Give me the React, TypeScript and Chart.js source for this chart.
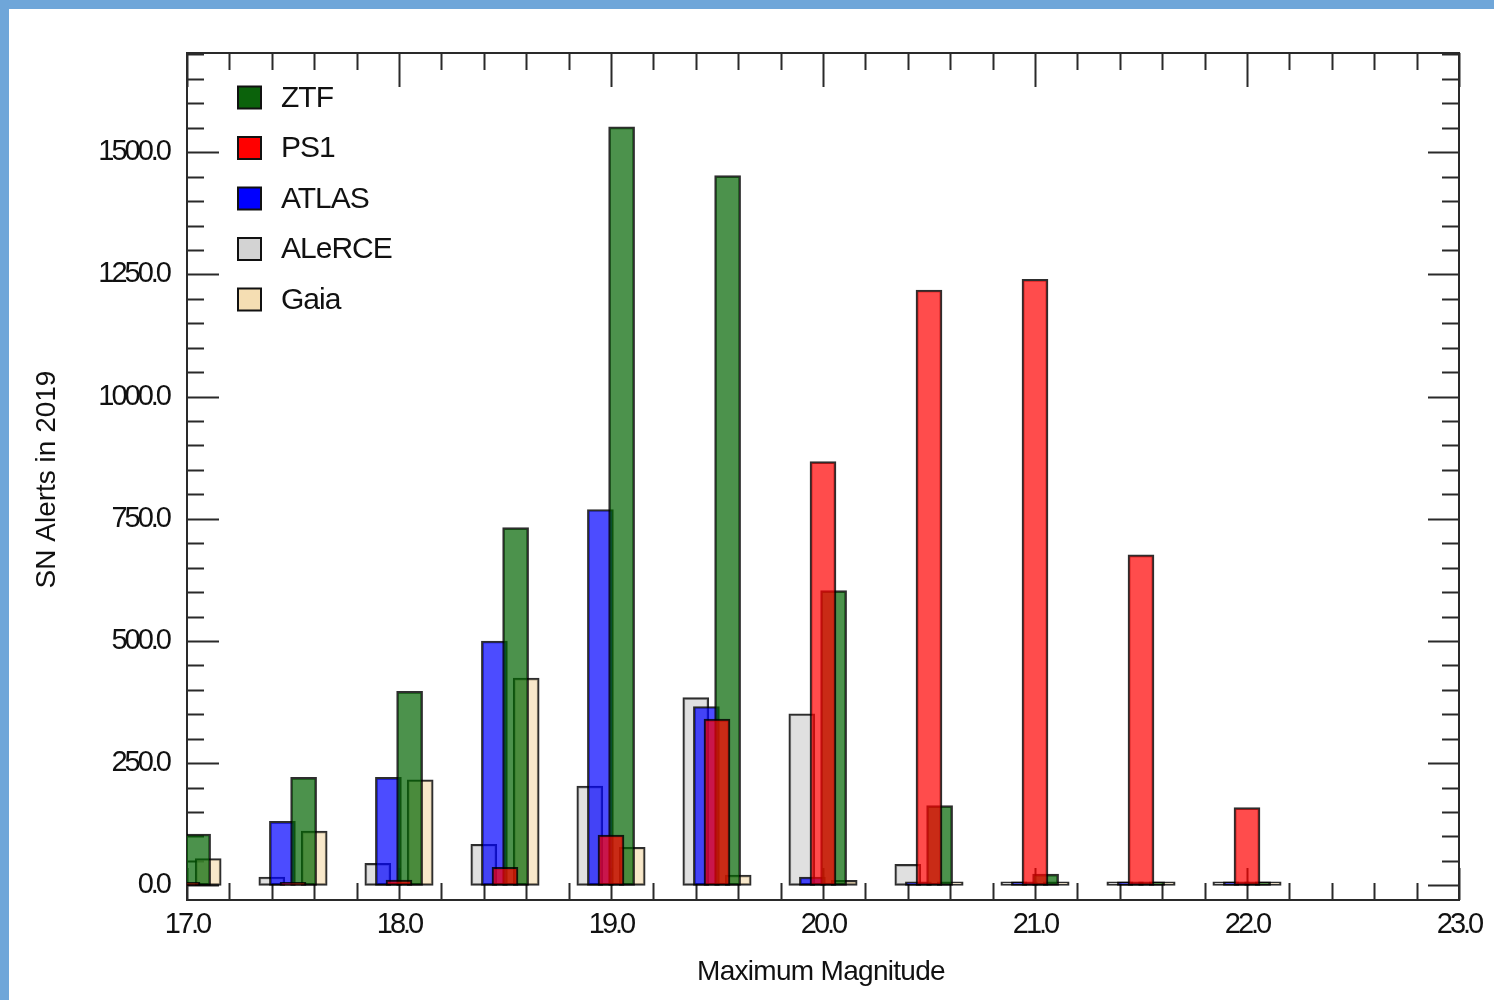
import React, { useEffect, useRef } from "react";
import { Chart, registerables } from "chart.js";

Chart.register(...registerables);

// ---------- data ----------
const MAGNITUDES = [17.0, 17.5, 18.0, 18.5, 19.0, 19.5, 20.0, 20.5, 21.0, 21.5, 22.0];
const ZTF = [105, 221, 397, 732, 1552, 1452, 603, 163, 23, 7, 7];
const PS1 = [6, 6, 11, 37, 103, 340, 867, 1218, 1240, 676, 159];
const ATLAS = [null, 131, 221, 500, 769, 366, 17, 7, 7, 7, 7];
const ALERCE = [null, 17, 45, 84, 203, 384, 351, 43, 7, 7, 7];
const GAIA = [55, 111, 216, 424, 78, 21, 10, 7, 7, 7, 7];

const X_TICKS = [17, 18, 19, 20, 21, 22, 23];
const Y_TICKS = [0, 250, 500, 750, 1000, 1250, 1500];
const X_TITLE = "Maximum Magnitude";
const Y_TITLE = "SN Alerts in 2019";

// ---------- styling ----------
const FONT = "'Liberation Sans', Arial, Helvetica, sans-serif";
const SERIES = [
  { label: "ZTF", values: ZTF, swatch: "#0b620b", fill: "rgba(0,100,0,0.7)", shift: 0.05, order: 2 },
  { label: "PS1", values: PS1, swatch: "#ff0000", fill: "rgba(255,0,0,0.7)", shift: 0, order: 1 },
  { label: "ATLAS", values: ATLAS, swatch: "#0000ff", fill: "rgba(0,0,255,0.7)", shift: -0.05, order: 3 },
  { label: "ALeRCE", values: ALERCE, swatch: "#d3d3d3", fill: "rgba(211,211,211,0.7)", shift: -0.1, order: 4 },
  { label: "Gaia", values: GAIA, swatch: "#f5deb3", fill: "rgba(245,222,179,0.7)", shift: 0.1, order: 5 },
];

const AXIS_COLOR = "#2a2a2a";

const decorPlugin = {
  id: "decor",
  beforeDraw(chart: any) {
    const ctx = chart.ctx;
    ctx.save();
    ctx.fillStyle = "#ffffff";
    ctx.fillRect(0, 0, chart.width, chart.height);
    ctx.fillStyle = "#6fa6d9";
    ctx.fillRect(0, 0, chart.width, 9);
    ctx.fillRect(0, 0, 9, chart.height);
    ctx.restore();
    ctx.letterSpacing = "-3px";
  },
  beforeDatasetsDraw(chart: any) {
    const ctx = chart.ctx;
    ctx.letterSpacing = "0px";
    const { left, right, top, bottom } = chart.chartArea;
    const xs = chart.scales.x;
    const ys = chart.scales.y;
    ctx.save();
    ctx.strokeStyle = AXIS_COLOR;
    ctx.lineWidth = 2;
    ctx.beginPath();
    // x ticks every 0.2, majors at integers
    for (let k = 85; k <= 115; k++) {
      const major = k % 5 === 0;
      const px = Math.round(xs.getPixelForValue(k / 5)) + 0.5;
      ctx.moveTo(px, top);
      ctx.lineTo(px, top + (major ? 34 : 17));
      ctx.moveTo(px, bottom);
      ctx.lineTo(px, bottom - (major ? 32 : 17));
    }
    // y ticks every 50, majors every 250
    for (let v = 0; v <= ys.max; v += 50) {
      const major = v % 250 === 0;
      const py = Math.round(ys.getPixelForValue(v)) + 0.5;
      ctx.moveTo(left, py);
      ctx.lineTo(left + (major ? 32 : 17), py);
      ctx.moveTo(right, py);
      ctx.lineTo(right - (major ? 31 : 17), py);
    }
    ctx.stroke();
    ctx.strokeRect(left, top, right - left, bottom - top);
    ctx.restore();
  },
  afterDatasetsDraw(chart: any) {
    const ctx = chart.ctx;
    const { left, right, top, bottom } = chart.chartArea;
    ctx.save();
    // legend
    ctx.letterSpacing = "-1px";
    ctx.font = `30px ${FONT}`;
    ctx.textBaseline = "middle";
    ctx.textAlign = "left";
    chart.data.datasets.forEach((ds: any, i: number) => {
      const cy = top + 44.5 + i * 50.5;
      const bx = left + 51;
      ctx.fillStyle = ds.swatch;
      ctx.fillRect(bx, cy - 11, 23, 22);
      ctx.strokeStyle = "#111";
      ctx.lineWidth = 2;
      ctx.strokeRect(bx, cy - 11, 23, 22);
      ctx.fillStyle = "#111";
      ctx.fillText(ds.label, bx + 43, cy + 1);
    });
    // axis titles
    ctx.font = `28px ${FONT}`;
    ctx.textAlign = "center";
    ctx.letterSpacing = "-0.7px";
    ctx.fillText(X_TITLE, (left + right) / 2 - 2, 972);
    ctx.letterSpacing = "0px";
    ctx.translate(47, (top + bottom) / 2 + 3);
    ctx.rotate(-Math.PI / 2);
    ctx.fillText(Y_TITLE, 0, 0);
    ctx.restore();
  },
  afterDraw(chart: any) {
    chart.ctx.letterSpacing = "0px";
  },
};

export default function App() {
  const ref = useRef<HTMLCanvasElement>(null);

  useEffect(() => {
    if (!ref.current) return;
    const datasets = SERIES.map((s) => ({
      label: s.label,
      swatch: s.swatch,
      data: MAGNITUDES.map((m, i) => ({ x: m + s.shift, y: s.values[i] })),
      backgroundColor: s.fill,
      borderColor: "rgba(0,0,0,0.82)",
      borderWidth: 2,
      borderSkipped: false,
      barThickness: 26,
      grouped: false,
      order: s.order,
    }));

    const chart = new Chart(ref.current, {
      type: "bar",
      data: { datasets: datasets as any },
      options: {
        responsive: false,
        animation: false,
        events: [],
        layout: { padding: { top: 53, right: 35, left: 0, bottom: 0 } },
        plugins: { legend: { display: false }, tooltip: { enabled: false } },
        scales: {
          x: {
            type: "linear",
            min: 17,
            max: 23,
            offset: false,
            grid: { display: false, drawTicks: false, offset: false },
            border: { display: false },
            afterBuildTicks: (scale: any) => {
              scale.ticks = X_TICKS.map((v) => ({ value: v }));
            },
            afterFit: (scale: any) => {
              scale.height = 100;
              scale.paddingLeft = 0;
              scale.paddingRight = 0;
            },
            ticks: {
              autoSkip: false,
              maxRotation: 0,
              padding: 8,
              color: "#111",
              font: { family: FONT, size: 29 },
              callback: (v: any) => Number(v).toFixed(1),
            },
          },
          y: {
            type: "linear",
            min: -30,
            max: 1703,
            grid: { display: false, drawTicks: false },
            border: { display: false },
            afterBuildTicks: (scale: any) => {
              scale.ticks = Y_TICKS.map((v) => ({ value: v }));
            },
            afterFit: (scale: any) => {
              scale.width = 187;
              scale.paddingTop = 0;
              scale.paddingBottom = 0;
            },
            ticks: {
              autoSkip: false,
              padding: 18,
              color: "#111",
              font: { family: FONT, size: 29 },
              callback: (v: any) => Number(v).toFixed(1),
            },
          },
        },
      } as any,
      plugins: [decorPlugin],
    });
    return () => chart.destroy();
  }, []);

  return (
    <div style={{ position: "absolute", left: 0, top: 0, width: 1494, height: 1000, background: "#fff" }}>
      <canvas ref={ref} width={1494} height={1000} style={{ display: "block" }} />
    </div>
  );
}
